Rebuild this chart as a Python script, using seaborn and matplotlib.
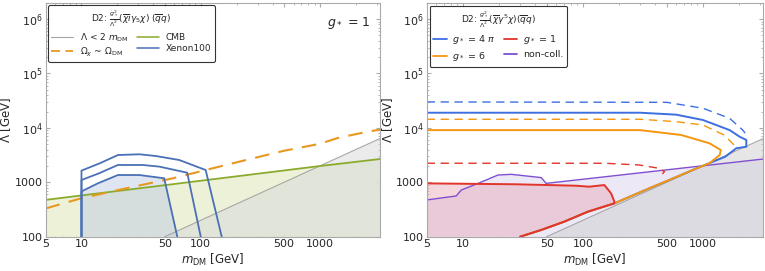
import numpy as np
import matplotlib
matplotlib.use("Agg")
import matplotlib.pyplot as plt
import pandas as pd
import seaborn as sns

# ---- left panel data ----
diag_x = [50, 3200]
diag_y = [100, 6400]

cmb_x = [5, 1000, 3200]
cmb_y = [475, 1990, 2680]

relic_x = [5, 10, 24, 58, 110, 210, 500, 1000, 1400, 2500, 3200]
relic_y = [330, 510, 780, 1180, 1680, 2390, 3800, 5100, 6500, 8500, 9300]

xe_outer_x = [10, 10, 14.2, 20.2, 30.6, 42, 66, 110, 150]
xe_outer_y = [100, 1640, 2230, 3170, 3270, 3040, 2570, 1680, 100]
xe_mid_x = [10, 10, 14, 20.2, 32.7, 45, 77, 100]
xe_mid_y = [100, 1100, 1460, 2080, 2080, 1940, 1500, 100]
xe_inner_x = [10, 10, 13.7, 20.2, 30.6, 49.4, 63.6]
xe_inner_y = [100, 680, 955, 1360, 1360, 1184, 100]

# ---- right panel data ----
nc_x = [5, 8.8, 9.7, 13.8, 19.6, 25.3, 45, 49.4, 3200]
nc_y = [473, 560, 720, 980, 1360, 1400, 1220, 955, 2680]

# shared lower branch hugging Lambda = 2 m_DM
low_x = [30, 45, 70, 110, 183, 350, 600, 830, 1137, 1540]
low_y = [100, 133, 189, 288, 410, 760, 1250, 1700, 2260, 2960]

red_up_x = [5, 27, 88, 113, 151, 172, 183]
red_up_y = [955, 920, 865, 830, 890, 625, 440]
red_dash_x = [5, 150, 295, 437, 478, 460]
red_dash_y = [2240, 2240, 2080, 1800, 1570, 1420]

or_up_x = [5, 300, 660, 1137, 1410, 1380, 1137, 830]
or_up_y = [9100, 9100, 7400, 5200, 3920, 3170, 2250, 1700]
or_dash_x = [5, 300, 600, 1000, 1500, 1820, 1780, 1500]
or_dash_y = [14400, 14400, 13000, 11300, 7400, 4850, 3700, 2960]

bl_up_x = [5, 300, 600, 1000, 1670, 2020, 2300, 2300, 1900, 1670, 1540]
bl_up_y = [19000, 19000, 17500, 13970, 9100, 6900, 6000, 4500, 4230, 3400, 2960]
bl_dash_x = [5, 500, 1000, 1670, 2150, 2250]
bl_dash_y = [30000, 29500, 23000, 15000, 9100, 8000]

xticks = [5, 10, 50, 100, 500, 1000]
yticks = [100, 1000, 1e4, 1e5, 1e6]
ytick_labels = ["100", "1000", r"$10^4$", r"$10^5$", r"$10^6$"]

sns.set_style("ticks")
plt.rcParams["font.family"] = ["DejaVu Sans"]
plt.rcParams["mathtext.fontset"] = "dejavusans"


def line(ax, x, y, color, lw=1.3, dashes=None):
    df = pd.DataFrame({"x": x, "y": y})
    sns.lineplot(data=df, x="x", y="y", ax=ax, color=color, lw=lw,
                 sort=False, estimator=None)
    if dashes is not None:
        ax.lines[-1].set_dashes(dashes)


def style(ax, xmax):
    ax.set_xscale("log")
    ax.set_yscale("log")
    ax.set_xlim(5, xmax)
    ax.set_ylim(100, 2e6)
    ax.set_xticks(xticks)
    ax.set_xticklabels([str(t) for t in xticks])
    ax.set_yticks(yticks)
    ax.set_yticklabels(ytick_labels)
    ax.tick_params(which="both", direction="in", top=True, right=True,
                   labelsize=8, color="#aaaaaa", pad=2)
    ax.tick_params(which="major", length=3)
    ax.tick_params(which="minor", length=1.5)
    for s in ax.spines.values():
        s.set_color("#aaaaaa")
        s.set_linewidth(0.8)
    ax.set_xlabel(r"$m_{\rm DM}$ [GeV]", fontsize=8.5, labelpad=2)
    ax.set_ylabel(r"$\Lambda$ [GeV]", fontsize=8.5, labelpad=1)


fig = plt.figure(figsize=(7.65, 2.71), dpi=100)
axL = fig.add_axes([0.0596, 0.1266, 0.4374, 0.8634])
axR = fig.add_axes([0.5578, 0.1266, 0.4392, 0.8634])

# ---------------- left ----------------
gray, green, orange, blue = "#a5a5a5", "#8aab2c", "#e8981f", "#4a70b6"
axL.fill_between(cmb_x, cmb_y, 100, color="#e9efd2", alpha=0.85, lw=0)
axL.fill_between(diag_x, diag_y, 100, color="#d8d8d8", alpha=0.5, lw=0)
axL.fill(xe_inner_x, xe_inner_y, color="#b9c9e4", alpha=0.45, lw=0)
line(axL, diag_x, diag_y, gray, lw=0.8)
line(axL, cmb_x, cmb_y, green)
line(axL, relic_x, relic_y, orange, lw=1.5, dashes=(7, 4.5))
for xs, ys in [(xe_outer_x, xe_outer_y), (xe_mid_x, xe_mid_y), (xe_inner_x, xe_inner_y)]:
    line(axL, xs, ys, blue)
style(axL, 3200)

hL = [plt.Line2D([], [], color=gray, lw=0.8),
      plt.Line2D([], [], color=orange, lw=1.3, dashes=(5, 3)),
      plt.Line2D([], [], color=green, lw=1.1),
      plt.Line2D([], [], color=blue, lw=1.1)]
lL = [r"$\Lambda$ < 2 $m_{\rm DM}$", r"$\Omega_\chi$ ~ $\Omega_{\rm DM}$", "CMB", "Xenon100"]
legL = axL.legend(hL, lL, ncol=2, loc="upper left", fontsize=6.5,
                  title=r"D2: $\frac{g_*^2}{\Lambda^2}(\overline{\chi}i\gamma_5\chi)\ (\overline{q}q)$",
                  title_fontsize=6.5, frameon=True, fancybox=True, handlelength=2.4,
                  columnspacing=0.9, borderaxespad=0.3, labelspacing=0.25,
                  borderpad=0.35)
legL.get_frame().set_edgecolor("black")
legL.get_frame().set_linewidth(0.8)
axL.text(0.97, 0.915, r"$g_*$ = 1", transform=axL.transAxes, ha="right",
         va="center", fontsize=9)

# ---------------- right ----------------
cb, co, cr, cp = "#3d6fe0", "#f5960f", "#e2342a", "#7f4fd0"
axR.fill_between(nc_x, nc_y, 100, color="#ece6f5", alpha=0.9, lw=0)
axR.fill_between(diag_x, diag_y, 100, color="#cfcfcf", alpha=0.5, lw=0)
red_poly_x = red_up_x + low_x[:5][::-1] + [5]
red_poly_y = red_up_y + low_y[:5][::-1] + [100]
axR.fill(red_poly_x, red_poly_y, color="#e8a6b4", alpha=0.45, lw=0)
line(axR, diag_x, diag_y, "#a5a5a5", lw=0.8)
line(axR, nc_x, nc_y, cp, lw=1.0)
line(axR, bl_dash_x, bl_dash_y, cb, lw=1.0, dashes=(6, 4))
line(axR, or_dash_x, or_dash_y, co, lw=1.0, dashes=(6, 4))
line(axR, red_dash_x, red_dash_y, cr, lw=1.0, dashes=(6, 4))
line(axR, bl_up_x + low_x[::-1], bl_up_y + low_y[::-1], cb, lw=1.4)
line(axR, or_up_x + low_x[:8][::-1], or_up_y + low_y[:8][::-1], co, lw=1.4)
line(axR, red_up_x + low_x[:5][::-1], red_up_y + low_y[:5][::-1], cr, lw=1.4)
style(axR, 3150)

hR = [plt.Line2D([], [], color=cb, lw=1.3), plt.Line2D([], [], color=co, lw=1.3),
      plt.Line2D([], [], color=cr, lw=1.3), plt.Line2D([], [], color=cp, lw=1.3)]
lR = [r"$g_*$ = 4 $\pi$", r"$g_*$ = 6", r"$g_*$ = 1", "non-coll."]
legR = axR.legend(hR, lR, ncol=2, loc="upper left", fontsize=6.8,
                  title=r"D2: $\frac{g_*^2}{\Lambda^2}(\overline{\chi}\gamma^5\chi)(\overline{q}q)$",
                  title_fontsize=6.5, frameon=True, fancybox=True, handlelength=1.4,
                  handletextpad=0.6, columnspacing=0.9, borderaxespad=0.3,
                  labelspacing=0.4, borderpad=0.4)
legR.get_frame().set_edgecolor("black")
legR.get_frame().set_linewidth(0.8)

fig.savefig("out.png", dpi=100)
